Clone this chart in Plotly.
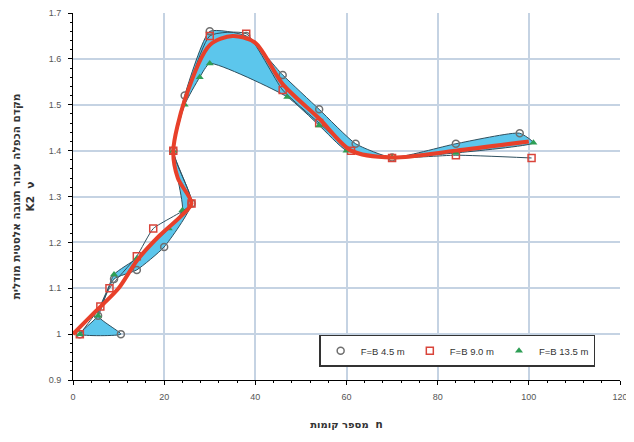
import plotly.graph_objects as go

# Series data (n = number of floors, value = factor)
circle_x = [1.5, 10.5, 5.5, 9, 14, 20, 26, 22, 24.5, 30, 38, 46, 54, 62, 70, 84, 98]
circle_y = [1.0, 1.0, 1.04, 1.12, 1.14, 1.19, 1.285, 1.40, 1.52, 1.66, 1.65, 1.565, 1.49, 1.415, 1.385, 1.415, 1.438]

square_x = [1.5, 6, 8, 14, 17.6, 26, 22, 30, 38, 46, 54, 61, 70, 84, 100.6]
square_y = [1.0, 1.06, 1.10, 1.17, 1.23, 1.285, 1.40, 1.65, 1.655, 1.532, 1.46, 1.40, 1.384, 1.39, 1.384]

triangle_x = [1.5, 5.5, 9, 14, 21, 24, 22, 24.5, 27.8, 30, 47, 54, 60, 70, 84, 101]
triangle_y = [1.0, 1.04, 1.13, 1.165, 1.23, 1.27, 1.40, 1.50, 1.56, 1.59, 1.517, 1.455, 1.40, 1.385, 1.395, 1.417]

mean_x = [0, 5, 10, 14, 19, 24, 26, 23, 22, 24.5, 30, 35, 40, 46, 54, 61, 70, 84, 100]
mean_y = [1.0, 1.05, 1.10, 1.16, 1.215, 1.26, 1.285, 1.34, 1.40, 1.51, 1.63, 1.65, 1.635, 1.545, 1.47, 1.40, 1.385, 1.40, 1.42]

series_names = ["F=B 4.5 m", "F=B 9.0 m", "F=B 13.5 m"]
x_ticks = [0, 20, 40, 60, 80, 100, 120]
y_ticks = [0.9, 1, 1.1, 1.2, 1.3, 1.4, 1.5, 1.6, 1.7]

fig = go.Figure()

# cyan band between circle and triangle series
fig.add_trace(go.Scatter(
    x=circle_x + triangle_x[::-1], y=circle_y + triangle_y[::-1],
    mode="lines", fill="toself", fillcolor="#5cc6ec",
    line=dict(color="#2e4f5e", width=1, shape="spline", smoothing=0.5),
    showlegend=False, hoverinfo="skip"))

fig.add_trace(go.Scatter(
    x=square_x, y=square_y, mode="lines",
    line=dict(color="#2e4f5e", width=1, shape="spline", smoothing=0.5),
    showlegend=False, hoverinfo="skip"))

fig.add_trace(go.Scatter(
    x=circle_x, y=circle_y, mode="markers", name=series_names[0],
    marker=dict(symbol="circle-open", size=7, color="#6f6f6f", line=dict(width=1.5))))
fig.add_trace(go.Scatter(
    x=square_x, y=square_y, mode="markers", name=series_names[1],
    marker=dict(symbol="square-open", size=7, color="#d9443a", line=dict(width=1.5))))
fig.add_trace(go.Scatter(
    x=triangle_x, y=triangle_y, mode="markers", name=series_names[2],
    marker=dict(symbol="triangle-up", size=7, color="#2e9e55")))

fig.add_trace(go.Scatter(
    x=mean_x, y=mean_y, mode="lines", showlegend=False,
    line=dict(color="#e8402a", width=4, shape="spline", smoothing=0.8)))

axis_common = dict(
    showline=True, linecolor="black", linewidth=1,
    ticks="outside", ticklen=4, tickcolor="black",
    showgrid=True, gridcolor="#c5d3e3", gridwidth=1.5, zeroline=False,
    automargin=False,
    tickfont=dict(family="Liberation Sans", size=9, color="#555"),
)

fig.update_xaxes(range=[0, 120], tickvals=x_ticks, **axis_common, ticklabelstandoff=4,
                 minor=dict(dtick=4, ticks="outside", ticklen=2, tickcolor="black", showgrid=False),
                 title=dict(text="<b>מספר קומות  n</b>", font=dict(family="DejaVu Sans", size=10, color="#333"), standoff=20))
fig.update_yaxes(range=[0.9, 1.7], tickvals=y_ticks, **axis_common, ticklabelstandoff=5,
                 minor=dict(dtick=0.02, ticks="outside", ticklen=2, tickcolor="black", showgrid=False),
                 title=dict(text="<b>מקדם הכפלה עבור תגובה אלסטית מודלית<br>K2  ν</b>",
                            font=dict(family="DejaVu Sans", size=10.5, color="#333"), standoff=12))

fig.update_layout(
    width=634, height=442,
    margin=dict(l=65, r=22, t=5, b=70),
    plot_bgcolor="white", paper_bgcolor="white",
    legend=dict(orientation="h", x=0.45, y=0.123, xanchor="left", yanchor="top",
                bgcolor="white", bordercolor="#333", borderwidth=1.5,
                font=dict(family="Liberation Sans", size=9.5, color="#333"),
                itemwidth=30, tracegroupgap=0),
)

fig.write_html("out.html")
